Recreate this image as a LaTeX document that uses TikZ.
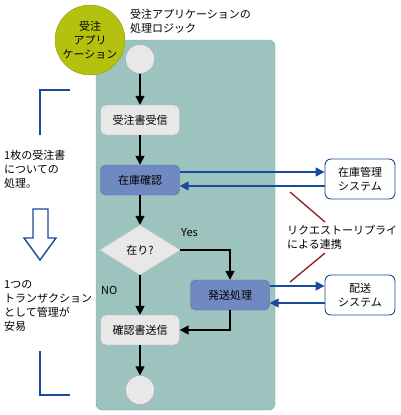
\documentclass[tikz,border=0pt]{standalone}
\usepackage{fontspec}
\setmainfont{Noto Sans CJK JP}
\usetikzlibrary{arrows.meta,shapes.geometric}
\definecolor{panel}{HTML}{9DC3BF}
\definecolor{panelline}{HTML}{7FA6A2}
\definecolor{appgreen}{HTML}{B4C20F}
\definecolor{actgray}{HTML}{E8E8E8}
\definecolor{procblue}{HTML}{7089C1}
\definecolor{procline}{HTML}{4D67A3}
\definecolor{msgblue}{HTML}{1A4A9B}
\definecolor{linkred}{HTML}{8E1B1B}
\begin{document}
\begin{tikzpicture}[x=1pt,y=-1pt,font=\fontsize{11}{14}\selectfont,
	act/.style={rounded corners=5pt,draw=gray!70,fill=actgray,minimum width=79pt,minimum height=30pt,inner sep=0pt},
	proc/.style={act,draw=procline,fill=procblue},
	sys/.style={rounded corners=6pt,draw=msgblue,line width=0.9pt,fill=white,minimum width=70pt,minimum height=40pt,inner sep=0pt,align=center},
	cond/.style={diamond,draw=gray!40,fill=actgray,minimum width=80pt,minimum height=50pt,inner sep=0pt},
	dot/.style={circle,draw=gray!70,fill=actgray,minimum size=29pt,inner sep=0pt},
	flow/.style={line width=1.6pt,-{Triangle[length=9pt,width=9pt]}},
	msg/.style={line width=1.6pt,draw=msgblue,-{Triangle[length=9pt,width=9pt]}},
	note/.style={anchor=west,align=left,inner sep=0pt}]
	\useasboundingbox (0,0) rectangle (400,415);
	% panel and application
	\draw[fill=panel,draw=panelline,rounded corners=6pt] (96,40) rectangle (275,410);
	\node[circle,draw=appgreen!80!black,fill=appgreen,minimum size=70pt,inner sep=0pt,align=center] (app) at (90,40) {受注\\アプリ\\ケーション};
	\node[note] (title) at (130,21) {受注アプリケーションの\\処理ロジック};
	% activities
	\node[dot] (start) at (140,59) {};
	\node[act] (recv) at (140,120) {受注書受信};
	\node[proc] (chk) at (140,180) {在庫確認};
	\node[cond] (ok) at (140,250) {在り?};
	\node[proc] (ship) at (230,295) {発送処理};
	\node[act] (conf) at (140,330) {確認書送信};
	\node[dot] (end) at (140,390) {};
	\node[note] (yes) at (181,233) {Yes};
	\node[note] (no) at (101,290) {NO};
	\draw[flow] (start) -- (recv);
	\draw[flow] (recv) -- (chk);
	\draw[flow] (chk) -- (ok);
	\draw[flow] (ok) -- (conf);
	\draw[flow] (ok.east) -| (ship);
	\draw[flow] (ship) |- (conf);
	\draw[flow] (conf) -- (end);
	% outside systems
	\node[sys] (stock) at (360,179) {在庫管理\\システム};
	\node[sys] (deliv) at (360,295) {配送\\システム};
	\draw[msg] ([yshift=8pt]chk.east) -- ([yshift=8pt]chk.east -| stock.west);
	\draw[msg] ([yshift=-7pt]stock.west) -- ([yshift=-7pt]stock.west -| chk.east);
	\draw[msg] ([yshift=9pt]ship.east) -- ([yshift=9pt]ship.east -| deliv.west);
	\draw[msg] ([yshift=-8pt]deliv.west) -- ([yshift=-8pt]deliv.west -| ship.east);
	\node[note] (link) at (287,237) {リクエストーリプライ\\による連携};
	\coordinate (r1) at (290,192);
	\coordinate (r2) at (325,222);
	\coordinate (r3) at (325,253);
	\coordinate (r4) at (290,282);
	\draw[linkred,line width=1.3pt] (r1) -- (r2);
	\draw[linkred,line width=1.3pt] (r3) -- (r4);
	% left notes
	\draw[msgblue,line width=1.6pt] (70,90) -- (40,90) -- (40,135);
	\draw[msgblue,line width=1.6pt] (40,351) -- (40,395) -- (70,395);
	\node[note] (one) at (4,169) {1枚の受注書\\についての\\処理。};
	\draw[msgblue,line width=1.4pt,fill=white,line join=miter] (33,209) -- (48,209) -- (48,238) -- (56,238) -- (40,260) -- (24,238) -- (33,238) -- cycle;
	\node[note] (tx) at (4,306) {1つの\\トランザクション\\として管理が\\安易};
\end{tikzpicture}
\end{document}
